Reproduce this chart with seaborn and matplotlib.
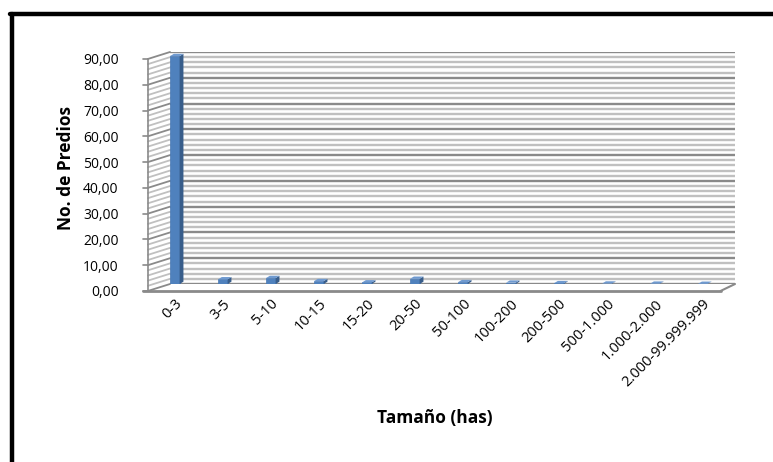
import numpy as np
import pandas as pd
import matplotlib.pyplot as plt
import seaborn as sns
from matplotlib.lines import Line2D
from matplotlib.patches import Polygon
from matplotlib.transforms import ScaledTranslation

# Data
categorias = ["0-3", "3-5", "5-10", "10-15", "15-20", "20-50", "50-100",
              "100-200", "200-500", "500-1.000", "1.000-2.000", "2.000-99.999.999"]
predios = [88.4, 1.8, 2.3, 1.1, 0.6, 2.0, 0.7, 0.5, 0.3, 0.15, 0.1, 0.05]
y_ticks = np.arange(0, 91, 10)

df = pd.DataFrame({"Tamaño": categorias, "Predios": predios})

sns.set_style("white")
plt.rcParams["font.family"] = ["Open Sans", "DejaVu Sans"]

fig = plt.figure(figsize=(7.73, 4.62), dpi=100)
# back wall of the pseudo-3D chart
ax = fig.add_axes([170 / 773, 178 / 462, 565 / 773, 232 / 462])

grid_major = "#8a8a8a"
grid_minor = "#c0c0c0"
dx, dy = -0.46, -2.7     # offset from back wall to front edge (data units)

for v in np.arange(0, 91, 2):
    col = grid_major if v % 10 == 0 else grid_minor
    ax.axhline(v, color=col, lw=1.7, zorder=0)
    # left wall slanted lines
    ax.plot([-0.1 + dx, -0.1], [v + dy, v], color=col, lw=1.3,
            clip_on=False, zorder=0)

# wall edges, floor and tick marks
x0 = -0.1 + dx
ax.plot([x0, x0], [dy, 90 + dy], color=grid_major, lw=1.2, clip_on=False)
ax.plot([x0 - 0.1, 11.67 - 0.3], [dy, dy], color=grid_major, lw=2, clip_on=False)
ax.plot([11.67 - 0.3, 11.67], [dy, 0], color=grid_major, lw=1.5, clip_on=False)
for v in y_ticks:
    ax.plot([x0 - 0.1, x0], [v + dy, v + dy], color=grid_major, lw=1.2,
            clip_on=False)

sns.barplot(data=df, x="Tamaño", y="Predios", color="#4F81BD", width=0.2,
            edgecolor="#4A7AB5", linewidth=0.5, saturation=1, ax=ax, zorder=3)

# side and top faces of the bars
bdx, bdy = 0.08, 0.9
for p in ax.patches:
    x, w, h = p.get_x(), p.get_width(), p.get_height()
    side = Polygon([(x + w, 0), (x + w + bdx, bdy), (x + w + bdx, h + bdy), (x + w, h)],
                   closed=True, facecolor="#385D8A", edgecolor="none", zorder=3)
    top = Polygon([(x, h), (x + w, h), (x + w + bdx, h + bdy), (x + bdx, h + bdy)],
                  closed=True, facecolor="#6F9AD0", edgecolor="none", zorder=3)
    ax.add_patch(side)
    ax.add_patch(top)

ax.set_xlim(-0.1, 11.67)
ax.set_ylim(0, 90)
ax.set_yticks(y_ticks)
ax.set_yticklabels([f"{v:.2f}".replace(".", ",") for v in y_ticks], fontsize=10,
                   color="black")
ax.tick_params(axis="y", length=0, pad=37)
shift = ScaledTranslation(0, -0.07, fig.dpi_scale_trans)
for lab in ax.get_yticklabels():
    lab.set_transform(lab.get_transform() + shift)
ax.tick_params(axis="x", length=0, pad=9)
ax.set_xticks(range(len(categorias)))
ax.set_xticklabels(categorias, rotation=45, ha="right", rotation_mode="anchor",
                   fontsize=10.5, color="black")
for s in ax.spines.values():
    s.set_visible(False)

ax.set_ylabel("No. de Predios", fontsize=12.5, fontweight="bold", color="black")
ax.yaxis.set_label_coords(-(170 - 75) / 565, 0.5)
ax.set_xlabel("")
fig.text(435 / 773, 1 - 418 / 462, "Tamaño (has)", fontsize=12.5,
         fontweight="bold", ha="center", va="center", color="black")

# outer chart border
fig.add_artist(Line2D([12 / 773, 12 / 773], [-0.1, 1 - 14 / 462], color="black",
                      lw=3.2, transform=fig.transFigure))
fig.add_artist(Line2D([10 / 773, 1.1], [1 - 14 / 462, 1 - 14 / 462], color="black",
                      lw=3.2, transform=fig.transFigure))

fig.savefig("out.png", dpi=100)
